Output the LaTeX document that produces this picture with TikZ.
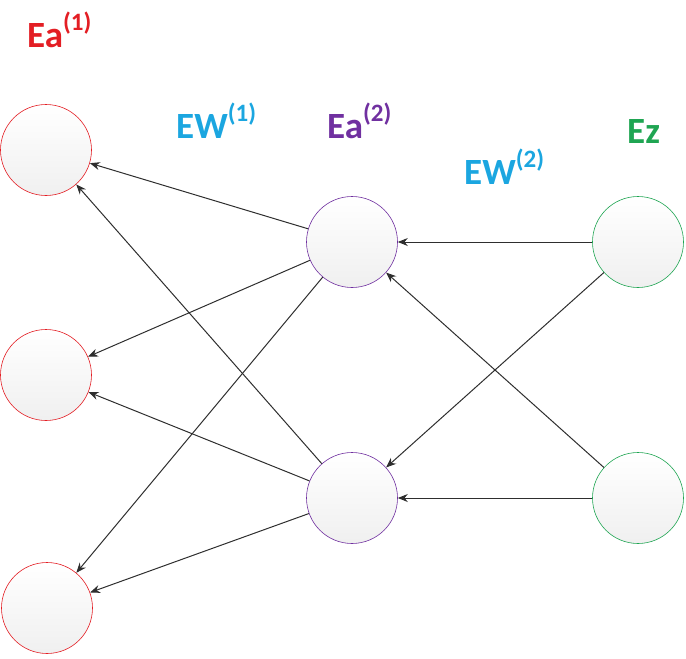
\documentclass[tikz,border=0pt]{standalone}
\usepackage{fontspec}
\setmainfont{Carlito}
\usetikzlibrary{arrows.meta}
\definecolor{cred}{HTML}{E31E24}
\definecolor{ccyan}{HTML}{1BA6E0}
\definecolor{cpurple}{HTML}{7030A0}
\definecolor{cgreen}{HTML}{1FA552}
\definecolor{cline}{HTML}{2E2E2E}
\newcommand{\lbl}[2]{\fontsize{37}{37}\selectfont\bfseries #1\raisebox{17pt}{\fontsize{25}{25}\selectfont\bfseries (#2)}}
\begin{document}
\begin{tikzpicture}[x=1pt,y=-1pt,
  neuron/.style={circle,minimum size=91pt,inner sep=0pt,line width=0.6pt,
    top color=white,bottom color=black!6},
  lab/.style={anchor=base west,inner sep=0pt},
  arr/.style={draw=cline,line width=1pt,-{Stealth[length=10pt,width=8pt]}}]
\useasboundingbox (0,0) rectangle (686,659);
\node[neuron,draw=cred] (L1) at (46,150) {};
\node[neuron,draw=cred] (L2) at (46,375) {};
\node[neuron,draw=cred] (L3) at (47,608) {};
\node[neuron,draw=cpurple] (M1) at (352,242) {};
\node[neuron,draw=cpurple] (M2) at (352,498) {};
\node[neuron,draw=cgreen] (R1) at (638,242) {};
\node[neuron,draw=cgreen] (R2) at (638,498) {};
\node[lab,text=cred] (t1) at (27,47) {\lbl{Ea}{1}};
\node[lab,text=ccyan] (t2) at (176,138) {\lbl{EW}{1}};
\node[lab,text=cpurple] (t3) at (327,138) {\lbl{Ea}{2}};
\node[lab,text=ccyan] (t4) at (464,184) {\lbl{EW}{2}};
\node[lab,text=cgreen] (t5) at (627,143) {\fontsize{37}{37}\selectfont\bfseries Ez};
\foreach \s in {M1,M2}
  \foreach \t in {L1,L2,L3}
    \draw[arr] (\s) -- (\t);
\foreach \s in {R1,R2}
  \foreach \t in {M1,M2}
    \draw[arr] (\s) -- (\t);
\end{tikzpicture}
\end{document}
